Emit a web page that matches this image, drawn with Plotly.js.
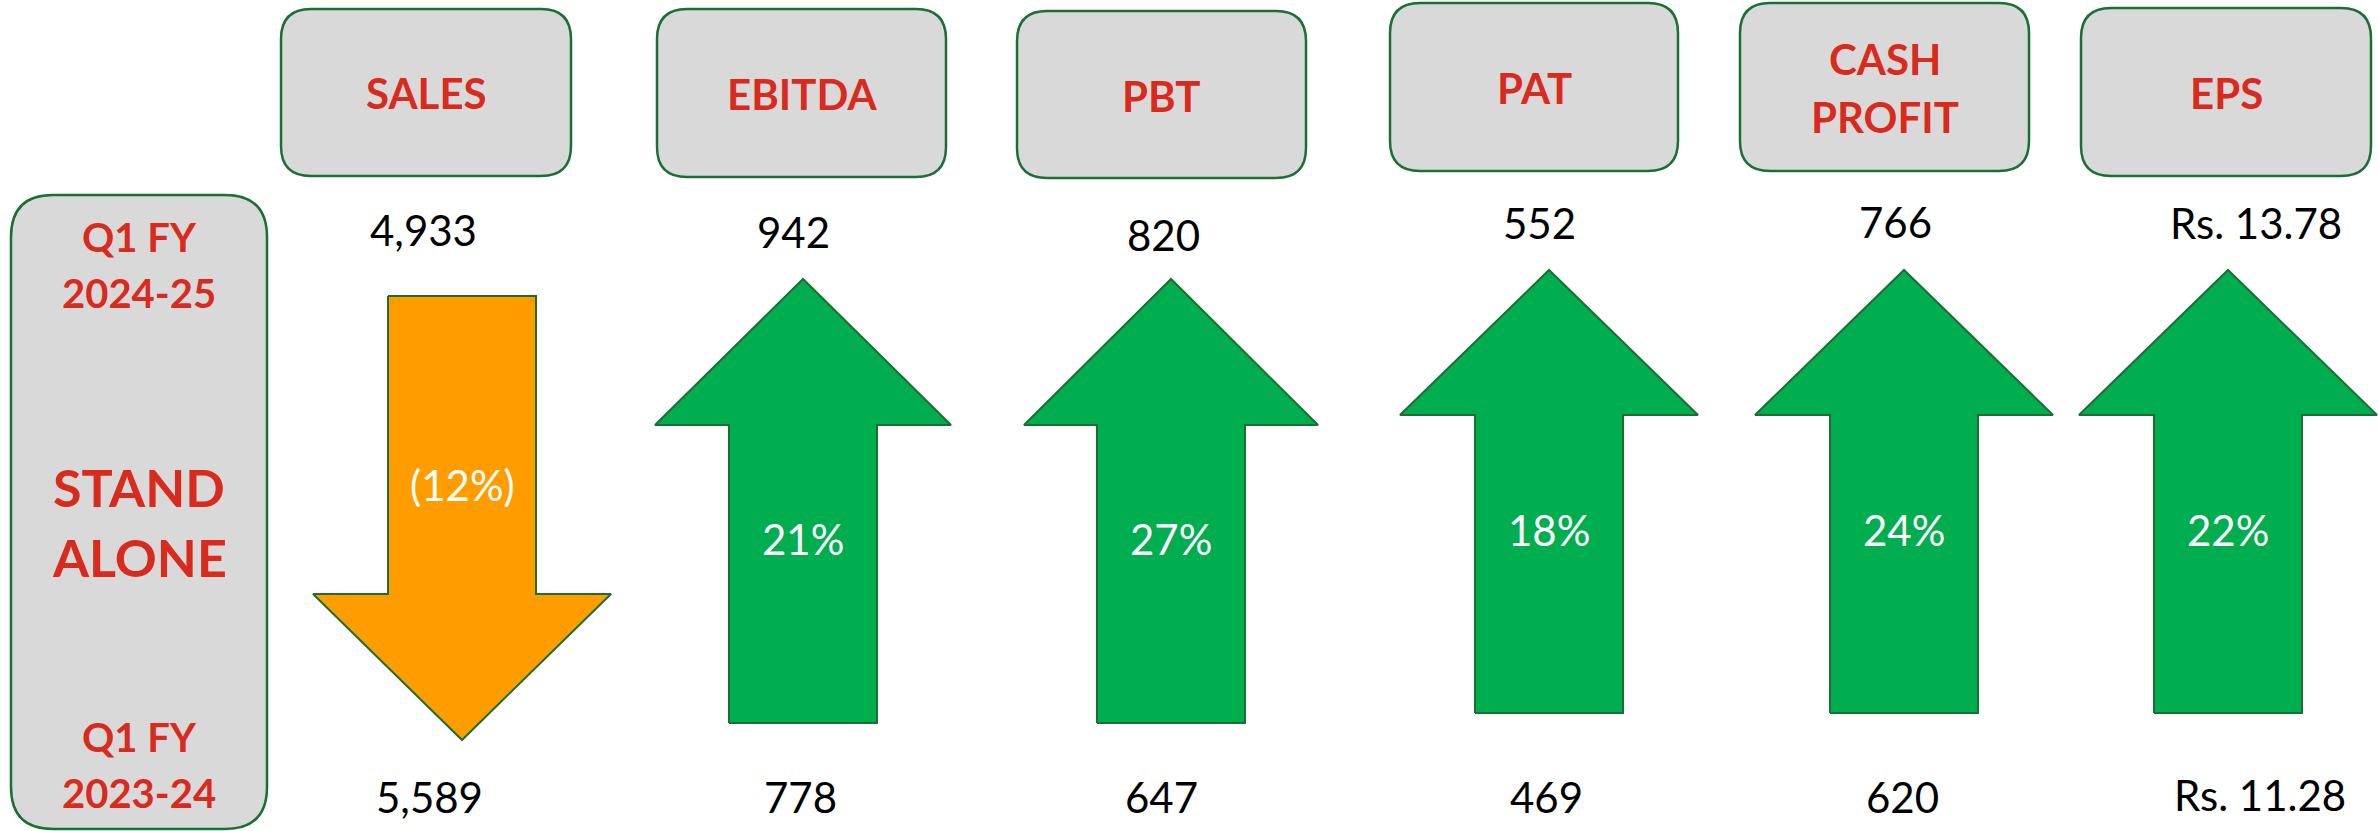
<!DOCTYPE html>
<html>
<head>
<meta charset="utf-8">
<script src="https://cdn.plot.ly/plotly-3.0.1.min.js"></script>
<style>html,body{margin:0;padding:0;background:#fff;}#chart{width:2379px;height:831px;}</style>
</head>
<body>
<div id="chart"></div>
<script>
// ---- DATA ----
const metrics = ['SALES', 'EBITDA', 'PBT', 'PAT', 'CASH PROFIT', 'EPS'];
const currentQuarter = [4933, 942, 820, 552, 766, 13.78];   // Q1 FY 2024-25
const previousQuarter = [5589, 778, 647, 469, 620, 11.28];  // Q1 FY 2023-24
const periodCurrent = ['Q1 FY', '2024-25'];
const periodBasis = ['STAND', 'ALONE'];
const periodPrevious = ['Q1 FY', '2023-24'];

// ---- LAYOUT GEOMETRY (pixel-space axes) ----
const W = 2379, H = 831;
const headerX = [[281,571],[657,946],[1017,1306],[1390,1678],[1740,2029],[2081,2371]];
const headerY = [[9,176],[9,177],[11,178],[3,171],[3,171],[8,176]];
const headerTextY = [93, 94, 96, 88, 88, 93];
const topValX = [423, 793, 1163, 1539, 1895, 2256];
const topValY = [230, 232, 235, 223, 222, 223];
const botValX = [429, 800, 1161, 1546, 1902, 2260];
const botValY = [797, 797, 797, 797, 797, 795];
// arrow: cx, tail end, headBase, tip, headHalf, shaftHalf
const arrowGeom = [
  {cx: 462, tail: 296, base: 594, tip: 740, hh: 149, sh: 74},
  {cx: 803, tail: 723, base: 425, tip: 279, hh: 148, sh: 74},
  {cx: 1171, tail: 723, base: 425, tip: 279, hh: 147, sh: 74},
  {cx: 1549, tail: 713, base: 415, tip: 270, hh: 149, sh: 74},
  {cx: 1904, tail: 713, base: 415, tip: 270, hh: 149, sh: 74},
  {cx: 2228, tail: 713, base: 415, tip: 270, hh: 149, sh: 74}
];
const pctY = [485, 539, 539, 530, 530, 530];

const RED = '#D92A1E', GRAY = '#D9D9D9', BORDER = '#1B6F33';
const GREEN = '#00AE50', ORANGE = '#FF9C00';
const FONT = 'Lato, "Open Sans", sans-serif';

function fmt(v, i) {
  if (metrics[i] === 'EPS') return 'Rs. ' + v.toFixed(2);
  return v.toLocaleString('en-US');
}
function pct(i) {
  const c = (currentQuarter[i] - previousQuarter[i]) / previousQuarter[i] * 100;
  const r = Math.round(Math.abs(c)) + '%';
  return c < 0 ? '(' + r + ')' : r;
}
function roundRect(x0, y0, x1, y1, r) {
  return `M${x0+r},${y0} L${x1-r},${y0} Q${x1},${y0} ${x1},${y0+r} L${x1},${y1-r} Q${x1},${y1} ${x1-r},${y1} ` +
         `L${x0+r},${y1} Q${x0},${y1} ${x0},${y1-r} L${x0},${y0+r} Q${x0},${y0} ${x0+r},${y0} Z`;
}

const shapes = [];
const annotations = [];
const traces = [];

// left period box
shapes.push({type: 'path', path: roundRect(11, 195, 267, 829, 42), xref: 'x', yref: 'y',
  fillcolor: GRAY, line: {color: BORDER, width: 2.5}, layer: 'below'});
function addText(x, y, text, size, color, bold) {
  annotations.push({x: x, y: y, xref: 'x', yref: 'y', text: bold ? '<b>' + text + '</b>' : text,
    showarrow: false, xanchor: 'center', yanchor: 'middle',
    font: {family: FONT, size: size, color: color}});
}
addText(139, 237, periodCurrent[0], 40, RED, true);
addText(139, 293, periodCurrent[1], 40, RED, true);
addText(139, 487, periodBasis[0], 52, RED, true);
addText(139, 557, periodBasis[1], 52, RED, true);
addText(139, 737, periodPrevious[0], 40, RED, true);
addText(139, 793, periodPrevious[1], 40, RED, true);

metrics.forEach((m, i) => {
  const [x0, x1] = headerX[i], [y0, y1] = headerY[i];
  shapes.push({type: 'path', path: roundRect(x0, y0, x1, y1, 30), xref: 'x', yref: 'y',
    fillcolor: GRAY, line: {color: BORDER, width: 2.5}, layer: 'below'});
  const cx = (x0 + x1) / 2;
  const words = m.split(' ');
  if (words.length === 2) {
    addText(cx, headerTextY[i] - 29, words[0], 42, RED, true);
    addText(cx, headerTextY[i] + 29, words[1], 42, RED, true);
  } else {
    addText(cx, headerTextY[i], m, 42, RED, true);
  }
  addText(topValX[i], topValY[i], fmt(currentQuarter[i], i), 42, '#000', false);
  addText(botValX[i], botValY[i], fmt(previousQuarter[i], i), 42, '#000', false);

  const g = arrowGeom[i];
  const up = currentQuarter[i] >= previousQuarter[i];
  const xs = [g.cx - g.sh, g.cx + g.sh, g.cx + g.sh, g.cx + g.hh, g.cx, g.cx - g.hh, g.cx - g.sh, g.cx - g.sh];
  const ys = [g.tail, g.tail, g.base, g.base, g.tip, g.base, g.base, g.tail];
  traces.push({type: 'scatter', mode: 'lines', x: xs, y: ys, fill: 'toself',
    fillcolor: up ? GREEN : ORANGE, line: {color: BORDER, width: 2}, hoverinfo: 'skip', showlegend: false});
  addText(g.cx, pctY[i], pct(i), 42, '#FFFFFF', false);
});

const layout = {
  width: W, height: H,
  margin: {l: 0, r: 0, t: 0, b: 0},
  paper_bgcolor: '#FFFFFF', plot_bgcolor: '#FFFFFF',
  xaxis: {range: [0, W], visible: false, fixedrange: true},
  yaxis: {range: [H, 0], visible: false, fixedrange: true},
  shapes: shapes, annotations: annotations, showlegend: false
};
Plotly.newPlot('chart', traces, layout, {staticPlot: true, displayModeBar: false});
</script>
</body>
</html>
